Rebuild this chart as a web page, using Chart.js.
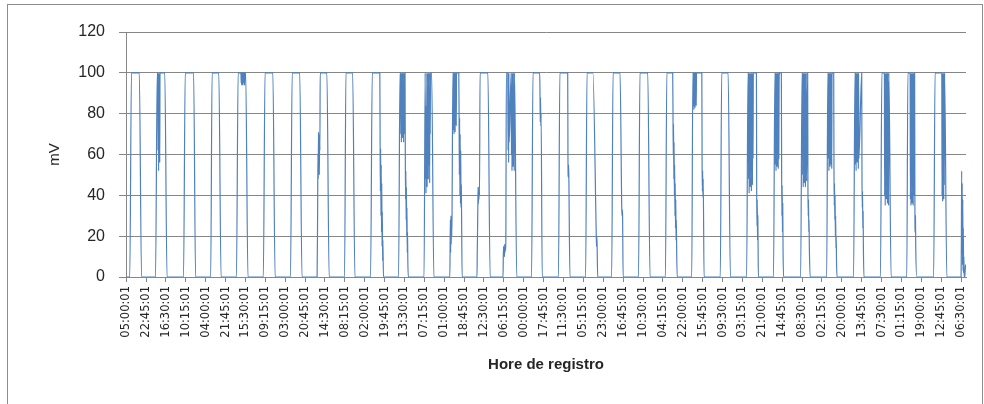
<!DOCTYPE html>
<html>
<head>
<meta charset="utf-8">
<script src="https://cdn.jsdelivr.net/npm/chart.js@4.4.1/dist/chart.umd.min.js"></script>
<style>
    html, body { margin: 0; padding: 0; background: #fff; }
    #wrap { position: relative; width: 984px; height: 404px; overflow: hidden; }
    #frame { position: absolute; left: 7px; top: 4px; width: 976px; height: 500px; border: 1px solid #8c8c8c; box-sizing: border-box; pointer-events: none; }
    canvas { position: absolute; left: 0; top: 0; }
</style>
</head>
<body>
<div id="wrap">
    <div id="frame"></div>
    <canvas id="mv_chart" width="984" height="404"></canvas>
</div>
<script>
'use strict';

// one reading every 15 minutes, first one at 05:00:01, 3000 readings
const firstHour = 5;
const stepsPerHour = 4;
const lastIndex = 2999;
const labelEvery = 71;

const tickLabels = ['05:00:01', '22:45:01', '16:30:01', '10:15:01', '04:00:01', '21:45:01',
    '15:30:01', '09:15:01', '03:00:01', '20:45:01', '14:30:01', '08:15:01', '02:00:01',
    '19:45:01', '13:30:01', '07:15:01', '01:00:01', '18:45:01', '12:30:01', '06:15:01',
    '00:00:01', '17:45:01', '11:30:01', '05:15:01', '23:00:01', '16:45:01', '10:30:01',
    '04:15:01', '22:00:01', '15:45:01', '09:30:01', '03:15:01', '21:00:01', '14:45:01',
    '08:30:01', '02:15:01', '20:00:01', '13:45:01', '07:30:01', '01:15:01', '19:00:01',
    '12:45:01', '06:30:01'];

const yTicks = [0, 20, 40, 60, 80, 100, 120];

// hour of day for each daily pulse (day 0 .. day 31)
const riseStart = [8.25, 7.25, 8.25, 8.5, 7.5, 7.5, 7.75, 7.5, 8.0, 7.25, 8.25, 7.0, 6.0, 6.25, 5.5, 7.0,
    7.0, 7.25, 6.5, 6.5, 6.5, 6.0, 7.5, 7.0, 7.0, 7.25, 6.5, 6.5, 6.5, 6.0, 6.0, null];
const riseTop = [9.75, 8.75, 9.75, 9.75, 9.0, 9.0, 9.25, 10.25, 9.25, 8.75, 9.5, 8.0, 8.75, 9.0, 8.5, 8.25,
    8.25, 8.5, 7.75, 7.75, 7.75, 7.0, 8.75, 8.25, 8.25, 8.5, 7.5, 7.75, 7.75, 7.0, 7.25, null];
const fallStart = [16.75, 15.5, 17.25, 15.75, 15.75, 16.0, 16.0, 16.25, 15.25, 15.5, 14.0, 13.75, 14.0, 16.0, 15.75, 14.25,
    15.25, 13.75, 14.0, 14.75, 13.0, 15.0, 14.5, 15.75, 14.0, 13.5, 12.75, 13.75, 14.0, 13.0, 15.75, null];
const fallEnd = [18.75, 17.5, 19.0, 17.75, 17.75, 18.0, 18.0, 18.25, 17.25, 18.75, 17.0, 15.75, 17.0, 18.0, 17.75, 16.5,
    17.25, 18.0, 16.75, 16.75, 17.0, 17.0, 16.5, 17.5, 16.0, 15.75, 15.75, 15.75, 16.0, 15.0, 17.75, null];

// unsteady stretches: [day, hour of first reading, readings every 15 min]
const bursts = [
    [0, 5.0, [0]],
    [1, 9.25, [100, 62, 100, 52, 96, 70, 100, 56, 100]],
    [4, 11.5, [100, 95, 100, 94, 100, 96, 100, 94, 100, 95, 100, 96, 100, 94, 100]],
    [7, 8.0, [35, 60, 48, 71, 52, 68, 50, 70, 62]],
    [9, 15.75, [68, 42, 63, 30, 55, 22, 46, 15, 32, 8, 18]],
    [10, 10.0, [100, 70, 100, 66, 96, 72, 100, 68, 100, 75, 92, 66, 100, 70, 100, 84, 100,
        60, 38, 52, 28, 44, 20, 34, 12, 22, 8]],
    [11, 8.25, [48, 84, 41, 80, 52, 100, 44, 82, 60, 100, 48, 78, 100, 55, 90, 46, 100, 70, 100]],
    [12, 6.25, [14, 28, 12, 30, 16, 26, 20, 32]],
    [12, 9.0, [100, 72, 100, 70, 100, 78, 100, 71, 100, 76, 100, 74, 100]],
    [12, 14.25, [83, 50, 78, 40, 70, 36, 62, 34, 45, 30]],
    [13, 6.5, [12, 22, 34, 44, 36, 42, 38, 44, 40]],
    [14, 5.75, [10, 15, 11, 14, 10, 16, 12, 15, 13, 17]],
    [14, 9.75, [100, 62, 100, 56, 100, 66]],
    [14, 12.75, [100, 60, 94, 52, 100, 58, 96, 54, 100, 62, 90, 52]],
    [15, 14.5, [91, 76, 88, 74, 80]],
    [16, 15.5, [57, 49, 55, 50]],
    [17, 16.75, [21, 15, 20, 16]],
    [18, 15.5, [34, 30, 33, 30]],
    [20, 13.25, [82, 60, 75, 48, 66, 40, 55, 30, 46, 24, 38, 18, 28, 15]],
    [21, 7.25, [100, 84, 100, 82, 100, 86, 100, 83, 100, 88, 100, 84, 100]],
    [21, 15.25, [56, 42, 52, 39, 48]],
    [23, 8.5, [100, 48, 100, 41, 95, 55, 100, 44, 90, 60, 100, 42, 100, 52, 96, 45, 100, 58, 100]],
    [23, 16.0, [41, 25, 38, 18, 30, 15]],
    [24, 8.5, [100, 55, 100, 52, 96, 60, 100, 54, 100, 65, 100, 53, 100, 58, 94, 100]],
    [24, 14.25, [52, 30, 45, 22, 36, 15]],
    [25, 8.75, [100, 50, 100, 44, 96, 58, 100, 46, 100, 55, 90, 44, 100, 50, 100, 47]],
    [25, 13.75, [44, 30, 38, 22, 28, 15]],
    [26, 7.75, [100, 58, 100, 52, 100, 62, 96, 54, 100, 60, 100, 55, 100, 53, 100]],
    [26, 13.0, [52, 35, 46, 28, 40, 20, 30, 14, 20, 8]],
    [27, 8.0, [100, 55, 100, 52, 98, 64, 100, 56, 100, 60, 100, 53, 100, 58]],
    [27, 14.0, [50, 34, 42, 24, 32, 15]],
    [28, 10.0, [100, 40, 100, 35, 92, 50, 100, 38, 100, 45, 100, 36, 100, 42, 96, 35]],
    [29, 9.0, [100, 38, 100, 35, 95, 48, 100, 36, 100, 44, 100, 35, 100, 40]],
    [29, 13.25, [35, 22, 30, 15]],
    [30, 13.25, [100, 40, 100, 37, 96, 50, 100, 38, 100, 45, 100]],
    [31, 6.5, [0, 18, 52, 12, 46, 6, 38, 3, 24, 2, 10, 0, 1, 0, 2, 4, 6, 5]],
];

window.readingIndex = (day, hour) => day * 24 * stepsPerHour + (hour - firstHour) * stepsPerHour;

window.buildPoints = () => {
    let byIndex = {};
    riseStart.forEach((r, day) => {
        if (r === null) return;
        byIndex[readingIndex(day, r)] = 0;
        byIndex[readingIndex(day, riseTop[day])] = 100;
        byIndex[readingIndex(day, fallStart[day])] = 100;
        byIndex[readingIndex(day, fallEnd[day])] = 0;
    });
    bursts.forEach(([day, hour, values]) => {
        let start = readingIndex(day, hour);
        values.forEach((v, i) => { byIndex[start + i] = v; });
    });
    return Object.keys(byIndex).map(Number).sort((a, b) => a - b).
        map((x) => ({x: x, y: byIndex[x]}));
};

const gridColor = '#868686';
const textColor = '#262626';
const family = '"Liberation Sans", Arial, sans-serif';

let ctx = document.getElementById('mv_chart').getContext('2d');
window.mvChart = new Chart(ctx, {
    type: 'line',
    data: {
        datasets: [
            {
                label: 'mV',
                data: buildPoints(),
                borderColor: '#4F81BD',
                borderWidth: 1.2,
                pointRadius: 0,
                fill: false,
                cubicInterpolationMode: 'monotone',
            }],
    },
    options: {
        responsive: false,
        animation: false,
        devicePixelRatio: 1,
        layout: {
            padding: {top: 32, right: 18, bottom: 0, left: 0},
        },
        plugins: {
            legend: {display: false},
            tooltip: {enabled: false},
        },
        scales: {
            x: {
                type: 'linear',
                min: -0.5,
                max: lastIndex + 0.5,
                afterBuildTicks: (scale) => {
                    scale.ticks = tickLabels.map((t, i) => ({value: i * labelEvery}));
                },
                afterFit: (scale) => { scale.height = 127; },
                grid: {
                    drawOnChartArea: false,
                    drawTicks: true,
                    tickLength: 5,
                    color: gridColor,
                },
                border: {display: true, color: gridColor, width: 1},
                ticks: {
                    autoSkip: false,
                    minRotation: 90,
                    maxRotation: 90,
                    padding: 4,
                    color: textColor,
                    font: {family: '"DejaVu Sans", sans-serif', size: 11.5},
                    callback: (value, index) => tickLabels[index],
                },
                title: {
                    display: true,
                    text: 'Hore de registro',
                    color: textColor,
                    font: {family: family, size: 15, weight: 'bold'},
                    padding: {top: 0, bottom: 30},
                },
            },
            y: {
                min: yTicks[0],
                max: yTicks[yTicks.length - 1],
                afterFit: (scale) => { scale.width = 126; },
                grid: {
                    color: gridColor,
                    lineWidth: 1,
                    drawTicks: true,
                    tickLength: 7,
                },
                border: {display: true, color: gridColor, width: 1},
                ticks: {
                    stepSize: 20,
                    padding: 14,
                    color: textColor,
                    font: {family: family, size: 16},
                },
                title: {
                    display: true,
                    text: 'mV',
                    color: textColor,
                    font: {family: family, size: 15},
                    padding: {top: 46, bottom: 0},
                },
            },
        },
    },
});
</script>
</body>
</html>
